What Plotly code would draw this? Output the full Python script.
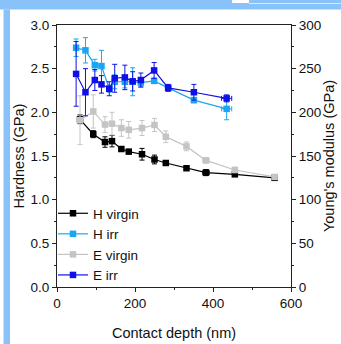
import plotly.graph_objects as go

# ---------------- data ----------------
depth = [49, 73, 97, 114, 134, 148, 174, 194, 215, 249, 285, 351, 435]
depth_v = [59, 93, 123, 141, 165, 184, 218, 250, 279, 332, 382, 456, 558]

h_virgin = [1.92, 1.75, 1.66, 1.67, 1.58, 1.55, 1.52, 1.46, 1.42, 1.36, 1.31, 1.29, 1.25]
h_virgin_err = [0.05, 0.04, 0.06, 0.065, 0.02, 0.02, 0.067, 0.05, 0.02, 0.02, 0.035, 0.015, 0.01]

h_irr = [2.74, 2.71, 2.54, 2.53, 2.27, 2.35, 2.35, 2.35, 2.34, 2.36, 2.28, 2.14, 2.04]
h_irr_err = [0.10, 0.145, 0.067, 0.18, 0.04, 0.08, 0.07, 0.16, 0.05, 0.02, 0.03, 0.03, 0.125]

e_virgin = [191, 201, 186, 187, 182, 180, 182, 185.5, 172, 161, 145, 134, 126]
e_virgin_err = [28, 19, 9, 13, 9.5, 9.5, 8.6, 7.6, 6.7, 5, 3, 3, 2]

e_irr = [244, 223, 237, 232, 227, 239, 240, 235.5, 237, 248, 228, 223, 216]
e_irr_err = [37, 27, 12, 10, 8, 16, 14, 11, 8, 9, 4, 9, 4]

x_err_v = [0, 0, 0, 0, 0, 0, 0, 0, 0, 0, 8, 6, 6]
x_err_i = [0, 0, 0, 0, 0, 0, 0, 0, 0, 0, 0, 6, 13]

names = ["H virgin", "H irr", "E virgin", "E irr"]
colors = ["#000000", "#1aa6f0", "#c4c4c4", "#1010e6"]

# ---------------- figure ----------------
W, H = 341, 344
ML, MR, MT, MB = 57, 50, 25, 57
PW, PH = W - ML - MR, H - MT - MB

fig = go.Figure()


def add(x, y, ey, ex, name, color, axis):
    fig.add_trace(go.Scatter(
        x=x, y=y, name=name, mode="lines+markers", yaxis=axis,
        line=dict(color=color, width=1.2),
        marker=dict(symbol="square", size=6.5, color=color),
        error_y=dict(type="data", array=ey, color=color, thickness=1, width=2.5),
        error_x=dict(type="data", array=ex, color=color, thickness=1, width=2.5),
    ))


add(depth_v, h_virgin, h_virgin_err, x_err_v, names[0], colors[0], "y")
add(depth, h_irr, h_irr_err, x_err_i, names[1], colors[1], "y")
add(depth_v, e_virgin, e_virgin_err, x_err_v, names[2], colors[2], "y2")
add(depth, e_irr, e_irr_err, x_err_i, names[3], colors[3], "y2")

font_family = "Liberation Sans, Arial, sans-serif"
axcol = "#222222"


def px_x(p):
    return (p - ML) / PW


def px_y(p):
    return (H - MB - p) / PH


blue = "#88c2f9"
shapes = [
    dict(type="rect", xref="paper", yref="paper", x0=px_x(0), x1=px_x(W), y0=px_y(0), y1=px_y(9.5),
         fillcolor=blue, line=dict(width=0), layer="below"),
    dict(type="rect", xref="paper", yref="paper", x0=px_x(232), x1=px_x(249), y0=px_y(0), y1=px_y(3),
         fillcolor="white", line=dict(width=0), layer="below"),
    dict(type="rect", xref="paper", yref="paper", x0=px_x(249), x1=px_x(W), y0=px_y(3), y1=px_y(4),
         fillcolor="#d6eafd", line=dict(width=0), layer="below"),
    dict(type="rect", xref="paper", yref="paper", x0=px_x(3.5), x1=px_x(10), y0=px_y(9.5), y1=px_y(H),
         fillcolor=blue, line=dict(width=0), layer="below"),
]

tickfont = dict(size=13.5)
titlefont = dict(size=14.5)

fig.update_layout(
    width=W, height=H,
    margin=dict(l=ML, r=MR, t=MT, b=MB, pad=0, autoexpand=False),
    paper_bgcolor="white", plot_bgcolor="white",
    font=dict(family=font_family, size=13, color="#111111"),
    showlegend=True,
    legend=dict(x=px_x(53), y=px_y(198), xanchor="left", yanchor="top",
                bgcolor="rgba(0,0,0,0)", borderwidth=0, font=dict(size=13.5),
                tracegroupgap=0, itemwidth=30),
    shapes=shapes,
    xaxis=dict(range=[0, 600], tickvals=[0, 200, 400, 600], showgrid=False, zeroline=False,
               automargin=False, tickfont=tickfont,
               showline=True, linecolor=axcol, linewidth=1, mirror=True,
               ticks="outside", ticklen=4, tickcolor=axcol,
               minor=dict(tickvals=[100, 300, 500], ticks="outside", ticklen=2, tickcolor=axcol),
               title=dict(text="Contact depth (nm)", font=titlefont, standoff=17)),
    yaxis=dict(range=[0, 3], tickvals=[0, 0.5, 1.0, 1.5, 2.0, 2.5, 3.0],
               ticktext=["0.0", "0.5", "1.0", "1.5", "2.0", "2.5", "3.0"],
               automargin=False, tickfont=tickfont,
               showgrid=False, zeroline=False, showline=True, linecolor=axcol, linewidth=1,
               ticks="outside", ticklen=4, tickcolor=axcol,
               minor=dict(tickvals=[0.25, 0.75, 1.25, 1.75, 2.25, 2.75], ticks="outside", ticklen=2, tickcolor=axcol),
               title=dict(text="Hardness (GPa)", font=titlefont, standoff=2)),
    yaxis2=dict(range=[0, 300], tickvals=[0, 50, 100, 150, 200, 250, 300], overlaying="y", side="right",
                automargin=False, tickfont=tickfont,
                showgrid=False, zeroline=False, showline=True, linecolor=axcol, linewidth=1,
                ticks="outside", ticklen=4, tickcolor=axcol,
                minor=dict(tickvals=[25, 75, 125, 175, 225, 275], ticks="outside", ticklen=2, tickcolor=axcol),
                title=dict(text="Young's modulus (GPa)", font=titlefont, standoff=3)),
)

fig.write_html("out.html")
